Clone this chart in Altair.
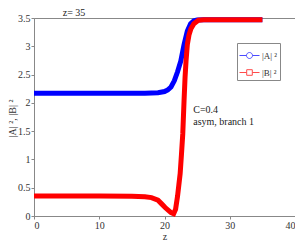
import altair as alt
import pandas as pd

# |A|^2 curve (blue)
z_a = [0, 5, 10, 15, 17, 19, 20, 20.5, 21, 21.5, 22, 22.5, 23, 23.5, 24, 24.5, 25, 26, 28, 30, 35]
a_vals = [2.17, 2.17, 2.17, 2.17, 2.17, 2.18, 2.20, 2.23, 2.28, 2.39, 2.55, 2.74, 3.03, 3.27, 3.40, 3.45, 3.465, 3.47, 3.47, 3.47, 3.47]

# |B|^2 curve (red)
z_b = [0, 5, 10, 15, 17, 18, 19, 19.6, 20.1, 20.6, 21, 21.4, 21.7, 22.0, 22.2, 22.4, 22.6, 22.8, 23.0, 23.15, 23.3, 23.5, 23.75, 24.05, 24.5, 25.2, 26, 28, 30, 35]
b_vals = [0.355, 0.355, 0.355, 0.35, 0.34, 0.325, 0.28, 0.21, 0.15, 0.10, 0.06, 0.04, 0.12, 0.35, 0.55, 0.75, 1.09, 1.45, 2.05, 2.45, 2.74, 3.03, 3.2, 3.31, 3.40, 3.46, 3.47, 3.47, 3.47, 3.47]

series_names = ["|A| ²", "|B| ²"]
series_colors = ["#0000ff", "#ff0000"]

title_text = ["z= 35"]
note_text = ["C=0.4", "asym, branch 1"]
note_z = [24.4, 24.4]
note_y = [1.88, 1.66]

x_ticks = [0, 10, 20, 30, 40]
y_ticks = [0, 0.5, 1, 1.5, 2, 2.5, 3, 3.5]

rows = []
for z, v in zip(z_a, a_vals):
    rows.append({"z": z, "v": v, "s": series_names[0]})
for z, v in zip(z_b, b_vals):
    rows.append({"z": z, "v": v, "s": series_names[1]})
df = pd.DataFrame(rows)
notes = pd.DataFrame({"z": note_z, "v": note_y, "t": note_text})
title_df = pd.DataFrame({"t": title_text})

FONT = "Liberation Serif"

circle_sym = "M-1,0L-0.3,0M0.3,0L1,0M-0.3,0A0.3,0.3 0 1 1 0.3,0A0.3,0.3 0 1 1 -0.3,0Z"
square_sym = "M-1,0L-0.28,0M0.28,0L1,0M-0.28,-0.28L0.28,-0.28L0.28,0.28L-0.28,0.28Z"

color_scale = alt.Scale(domain=series_names, range=series_colors)
legend = alt.Legend(orient="none", legendX=203, legendY=25, title=None,
                    symbolSize=400, symbolStrokeWidth=1,
                    fillColor="white", strokeColor="#888", padding=2,
                    labelFont=FONT, labelFontSize=9, labelColor="#333",
                    rowPadding=1, labelOffset=2)

xscale = alt.Scale(domain=[0, 40], nice=False)
yscale = alt.Scale(domain=[0, 3.5], nice=False)
xaxis = alt.Axis(values=x_ticks, title="z", format="d", titleBaseline="alphabetic", titleY=23)
yaxis = alt.Axis(values=y_ticks, title="|A| ², |B| ²", titleX=-17, titleY=100,
                 labelOverlap=False, format="~g")

lines = alt.Chart(df).mark_line(strokeWidth=5, strokeCap="butt").encode(
    x=alt.X("z:Q", scale=xscale, axis=xaxis),
    y=alt.Y("v:Q", scale=yscale, axis=yaxis),
    color=alt.Color("s:N", scale=color_scale, legend=legend),
    detail="s:N",
)

# empty point layer only to give legend symbols their circle / square shapes
legend_pts = alt.Chart(df).transform_filter("datum.z > 1000").mark_point(filled=False, strokeWidth=1).encode(
    x=alt.X("z:Q", scale=xscale, axis=xaxis),
    y=alt.Y("v:Q", scale=yscale, axis=yaxis),
    color=alt.Color("s:N", scale=color_scale, legend=legend),
    shape=alt.Shape("s:N", scale=alt.Scale(domain=series_names, range=[circle_sym, square_sym]), legend=legend),
)

texts = alt.Chart(notes).mark_text(align="left", baseline="middle", font=FONT, fontSize=10, color="#222").encode(
    x=alt.X("z:Q", scale=xscale, axis=xaxis),
    y=alt.Y("v:Q", scale=yscale, axis=yaxis),
    text="t:N",
)

title_mark = alt.Chart(title_df).mark_text(align="center", baseline="top", font=FONT, fontSize=10,
                                           color="#222").encode(
    x=alt.value(40), y=alt.value(-10), text="t:N"
)

chart = alt.layer(lines, legend_pts, texts, title_mark).properties(
    width=261, height=198,
    autosize=alt.AutoSizeParams(type="none"),
    padding={"left": 26, "top": 10, "right": 0, "bottom": 24},
).configure_view(stroke="#888", strokeWidth=1).configure_axis(
    grid=False, domainColor="#888", tickColor="#888", tickSize=3,
    labelFont=FONT, titleFont=FONT, labelFontSize=10, titleFontSize=10,
    labelColor="#333", titleColor="#333", titleFontWeight="normal", labelPadding=1
)

chart.save("out.html", embed_options={"renderer": "svg", "actions": False})
